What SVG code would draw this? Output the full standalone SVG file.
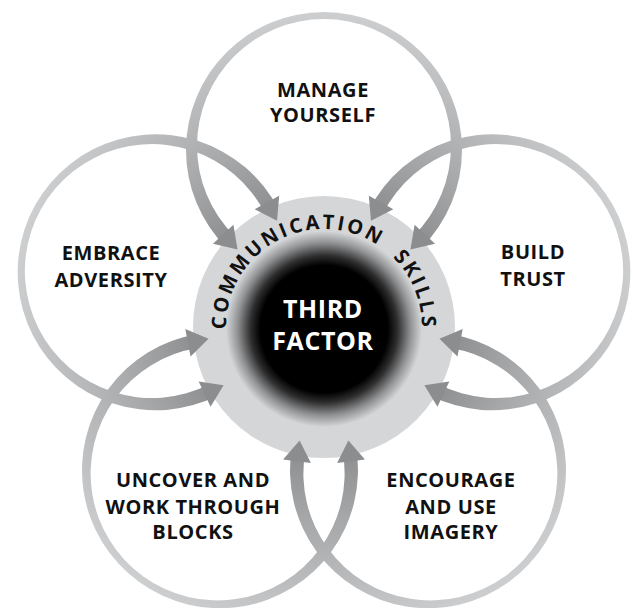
<svg xmlns="http://www.w3.org/2000/svg" xmlns:xlink="http://www.w3.org/1999/xlink" width="633" height="608" viewBox="0 0 633 608">
  <style>
    .label { font-family: "Open Sans", "Noto Sans", "Liberation Sans", sans-serif; font-weight: 700; font-size: 20px; fill: #111; text-anchor: middle; letter-spacing: 0.6px; }
    .core-label { font-family: "Open Sans", "Noto Sans", "Liberation Sans", sans-serif; font-weight: 700; font-size: 25px; fill: #fff; text-anchor: middle; letter-spacing: 0.6px; }
    .arc-label { font-family: "Open Sans", "Noto Sans", "Liberation Sans", sans-serif; font-weight: 700; font-size: 20px; fill: #111; letter-spacing: 2.6px; word-spacing: 9px; }
    .arrowhead { fill: #8c8d8f; }
  </style>
  <defs>
    <!-- ring shading: darker where the rings meet the hub, lighter at their outer rims -->
    <radialGradient id="ringGrad" gradientUnits="userSpaceOnUse" cx="324" cy="327" r="320">
      <stop offset="0.35" stop-color="#87888a"/>
      <stop offset="0.6" stop-color="#a6a7a9"/>
      <stop offset="1" stop-color="#cfd0d1"/>
    </radialGradient>
    <radialGradient id="coreGrad" gradientUnits="userSpaceOnUse" cx="324" cy="329" r="98">
      <stop offset="0" stop-color="#000"/>
      <stop offset="0.65" stop-color="#000"/>
      <stop offset="0.75" stop-color="#2e2e2f"/>
      <stop offset="0.88" stop-color="#8f9091"/>
      <stop offset="1" stop-color="#d5d6d8"/>
    </radialGradient>
    <!-- tapered ring: thin at the outer rim, thick near the hub -->
    <path id="ring" fill="url(#ringGrad)" fill-rule="evenodd"
          d="M 186 150 A 138 138 0 1 0 462 150 A 138 138 0 1 0 186 150 Z
             M 197 146 A 127 127 0 1 0 451 146 A 127 127 0 1 0 197 146 Z"/>
    <polygon id="arrow" class="arrowhead" points="15,0 -6,-14 -6,14"/>
    <g id="arrowPair">
      <use xlink:href="#arrow" transform="translate(227.3 238.6) rotate(46.87)"/>
      <use xlink:href="#arrow" transform="translate(420.7 238.6) rotate(133.13)"/>
    </g>
    <path id="hubArc" d="M 226 327 A 98 98 0 0 1 422 327"/>
  </defs>

  <g id="node-manage">
    <use xlink:href="#ring"/>
    <text class="label" x="323" y="97">MANAGE</text>
    <text class="label" x="323" y="122">YOURSELF</text>
  </g>
  <g id="node-build">
    <use xlink:href="#ring" transform="rotate(72 324 327)"/>
    <text class="label" x="533" y="259">BUILD</text>
    <text class="label" x="533" y="286">TRUST</text>
  </g>
  <g id="node-encourage">
    <use xlink:href="#ring" transform="rotate(144 324 327)"/>
    <text class="label" x="451" y="487">ENCOURAGE</text>
    <text class="label" x="451" y="514">AND USE</text>
    <text class="label" x="451" y="539">IMAGERY</text>
  </g>
  <g id="node-uncover">
    <use xlink:href="#ring" transform="rotate(216 324 327)"/>
    <text class="label" x="193" y="487">UNCOVER AND</text>
    <text class="label" x="193" y="514">WORK THROUGH</text>
    <text class="label" x="193" y="539">BLOCKS</text>
  </g>
  <g id="node-embrace">
    <use xlink:href="#ring" transform="rotate(288 324 327)"/>
    <text class="label" x="111" y="260">EMBRACE</text>
    <text class="label" x="111" y="287">ADVERSITY</text>
  </g>

  <!-- hub disc sits over the inner parts of the rings -->
  <g id="hub-disc">
    <circle cx="324" cy="327" r="131" fill="#d5d6d8"/>
  </g>

  <g id="connectors">
    <use xlink:href="#arrowPair"/>
    <use xlink:href="#arrowPair" transform="rotate(72 324 327)"/>
    <use xlink:href="#arrowPair" transform="rotate(144 324 327)"/>
    <use xlink:href="#arrowPair" transform="rotate(216 324 327)"/>
    <use xlink:href="#arrowPair" transform="rotate(288 324 327)"/>
  </g>

  <g id="hub">
    <circle cx="324" cy="329" r="98" fill="url(#coreGrad)"/>
    <text class="arc-label"><textPath xlink:href="#hubArc" startOffset="50%" text-anchor="middle">COMMUNICATION SKILLS</textPath></text>
    <text class="core-label" x="323" y="318">THIRD</text>
    <text class="core-label" x="323" y="350">FACTOR</text>
  </g>
</svg>
